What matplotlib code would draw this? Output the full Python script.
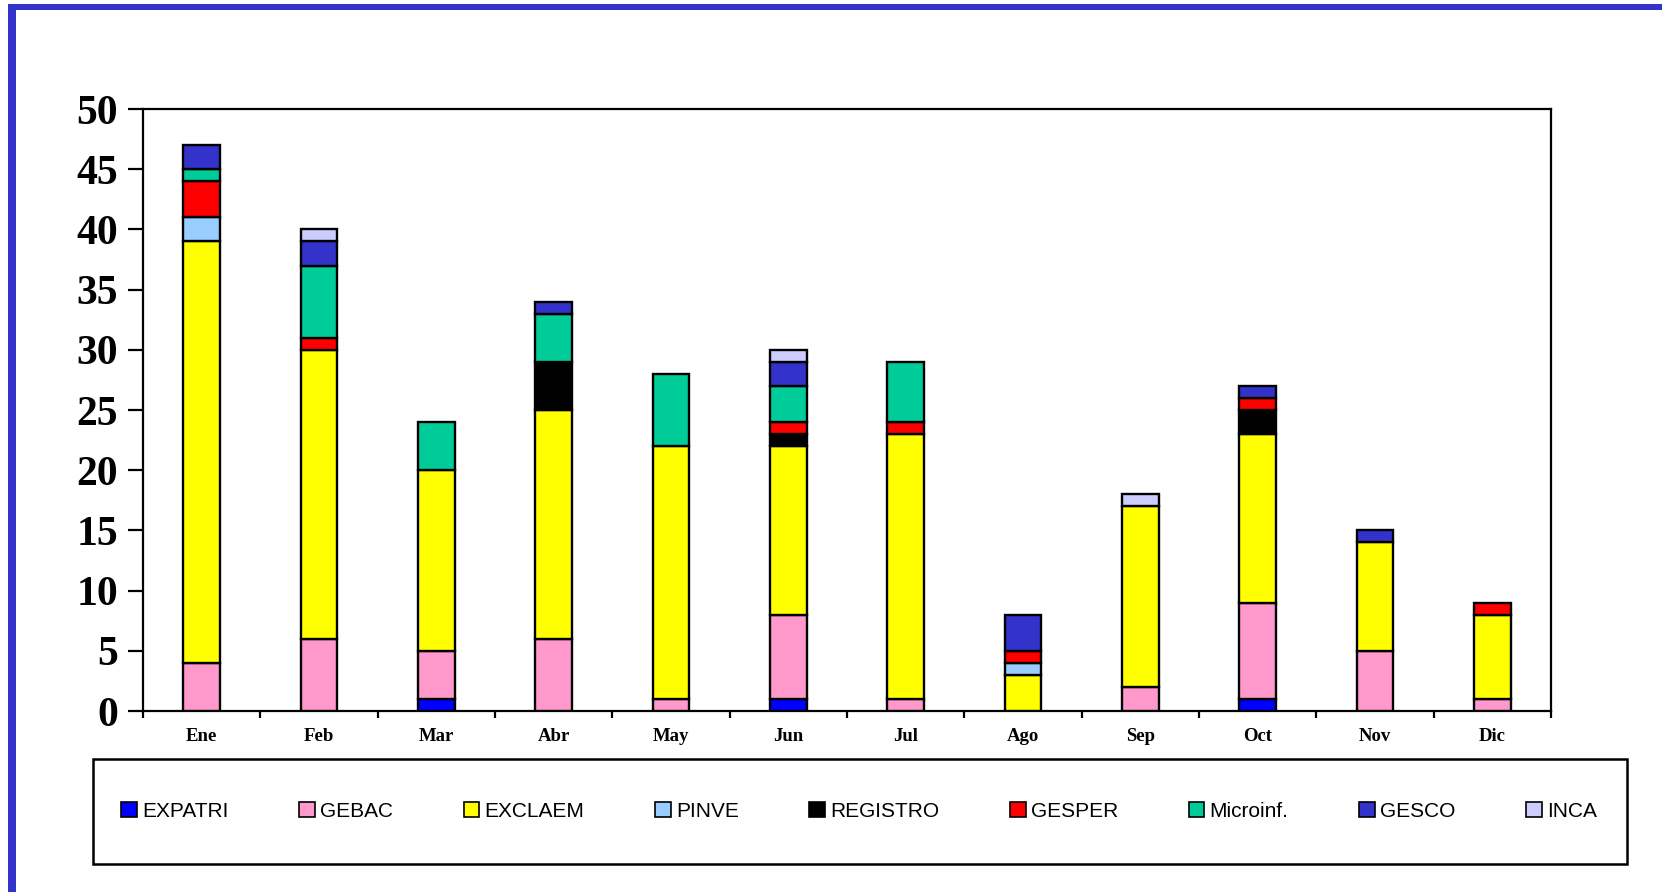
import numpy as np
import matplotlib
matplotlib.use("Agg")
import matplotlib.pyplot as plt
from matplotlib.patches import Rectangle, Patch

months = ["Ene", "Feb", "Mar", "Abr", "May", "Jun", "Jul", "Ago", "Sep", "Oct", "Nov", "Dic"]
series_names = ["EXPATRI", "GEBAC", "EXCLAEM", "PINVE", "REGISTRO", "GESPER", "Microinf.", "GESCO", "INCA"]
series_colors = ["#0000FF", "#FF99CC", "#FFFF00", "#99CCFF", "#000000", "#FF0000", "#00CC99", "#3333CC", "#CCCCFF"]

expatri  = [0, 0, 1, 0, 0, 1, 0, 0, 0, 1, 0, 0]
gebac    = [4, 6, 4, 6, 1, 7, 1, 0, 2, 8, 5, 1]
exclaem  = [35, 24, 15, 19, 21, 14, 22, 3, 15, 14, 9, 7]
pinve    = [2, 0, 0, 0, 0, 0, 0, 1, 0, 0, 0, 0]
registro = [0, 0, 0, 4, 0, 1, 0, 0, 0, 2, 0, 0]
gesper   = [3, 1, 0, 0, 0, 1, 1, 1, 0, 1, 0, 1]
microinf = [1, 6, 4, 4, 6, 3, 5, 0, 0, 0, 0, 0]
gesco    = [2, 2, 0, 1, 0, 2, 0, 3, 0, 1, 1, 0]
inca     = [0, 1, 0, 0, 0, 1, 0, 0, 1, 0, 0, 0]

series = [expatri, gebac, exclaem, pinve, registro, gesper, microinf, gesco, inca]
yticks = [0, 5, 10, 15, 20, 25, 30, 35, 40, 45, 50]

W, H = 1662, 892
fig = plt.figure(figsize=(W / 100, H / 100), dpi=100)
fig.patch.set_facecolor("white")

# blue frame (left and top edges)
fig.add_artist(Rectangle((8 / W, 0), 8 / W, 1 - 4 / H, transform=fig.transFigure,
                         facecolor="#3333CC", edgecolor="none"))
fig.add_artist(Rectangle((8 / W, 1 - 10 / H), 1, 6 / H, transform=fig.transFigure,
                         facecolor="#3333CC", edgecolor="none"))

ax = fig.add_axes([143 / W, 1 - 711 / H, (1551 - 143) / W, (711 - 109) / H])
x = np.arange(len(months))
bottom = np.zeros(len(months))
for name, vals, col in zip(series_names, series, series_colors):
    v = np.array(vals, dtype=float)
    m = v > 0
    ax.bar(x[m], v[m], 0.31, bottom=bottom[m], color=col, edgecolor="black",
           linewidth=1.7, zorder=3)
    bottom += v

ax.set_xlim(-0.5, len(months) - 0.5)
ax.set_ylim(0, 50)
ax.set_yticks(yticks)
ax.set_yticklabels([str(t) for t in yticks], fontfamily="Liberation Serif",
                   fontweight="bold", fontsize=30)
ax.tick_params(axis="y", direction="out", length=11, width=1.6, pad=7)
ax.set_xticks(x)
ax.set_xticklabels(months, fontfamily="Liberation Serif", fontweight="bold", fontsize=13.5)
ax.tick_params(axis="x", which="major", length=0, pad=12)
ax.set_xticks(np.arange(-0.5, len(months)), minor=True)
ax.tick_params(axis="x", which="minor", direction="out", length=5, width=1.6)
for s in ax.spines.values():
    s.set_linewidth(1.6)
    s.set_color("black")

# legend box
lx0, lx1, ly0, ly1 = 93, 1627, 759, 864
fig.add_artist(Rectangle((lx0 / W, 1 - ly1 / H), (lx1 - lx0) / W, (ly1 - ly0) / H,
                         transform=fig.transFigure, facecolor="white",
                         edgecolor="black", linewidth=1.8))
handles = [Patch(facecolor=c, edgecolor="black", linewidth=1.2) for c in series_colors]
fig.legend(handles, series_names, loc="center", ncol=len(series_names),
           bbox_to_anchor=((lx0 + 20) / W, 1 - ly1 / H, (1605 - lx0 - 20) / W, (ly1 - ly0) / H),
           mode="expand", frameon=False, prop={"family": "Liberation Sans", "size": 15},
           handlelength=0.75, handleheight=0.75, handletextpad=0.25, columnspacing=1.0,
           borderaxespad=0)

fig.savefig("out.png", dpi=100, facecolor="white")
